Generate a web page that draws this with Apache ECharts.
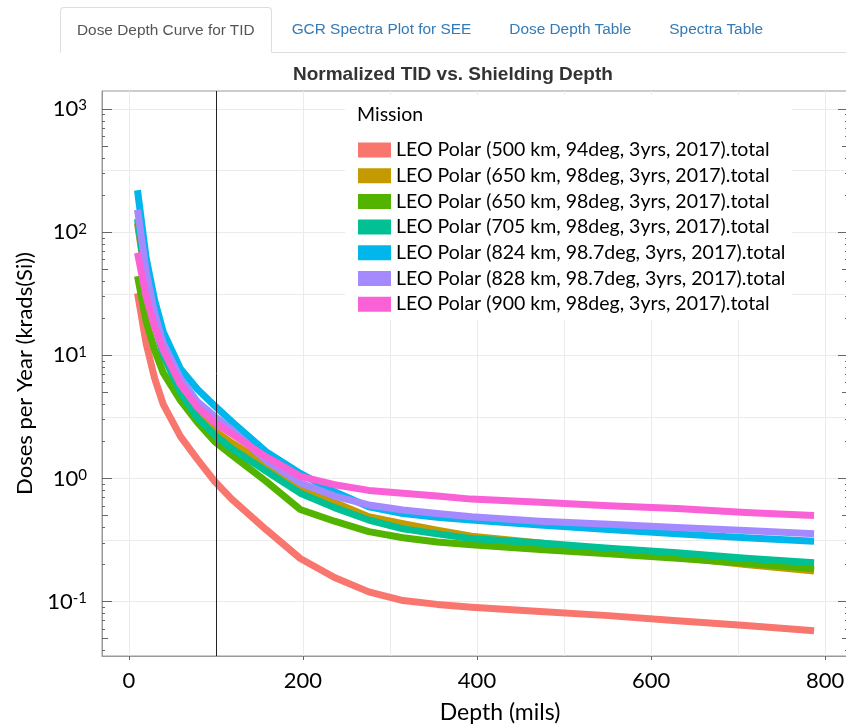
<!DOCTYPE html>
<html>
<head>
<meta charset="utf-8">
<script src="https://cdn.jsdelivr.net/npm/echarts@6/dist/echarts.min.js"></script>
<style>
    html, body { margin: 0; padding: 0; background: #fff; }
    #main { position: absolute; left: 0; top: 0; width: 846px; height: 728px; }
    .tabs {
        position: absolute; left: 60px; top: 7px; right: 0; height: 45px;
        border-bottom: 1px solid #ddd; display: flex; z-index: 2;
        font-family: "Liberation Sans", Arial, sans-serif; font-size: 15.4px;
    }
    .tab { padding: 0 18px; line-height: 44px; color: #337ab7; margin-right: 2px; white-space: nowrap; }
    .tab.active {
        color: #555; background: #fff; padding: 0 16px;
        border: 1px solid #ddd; border-bottom-color: #fff;
        border-radius: 4px 4px 0 0; margin-bottom: -1px;
    }
</style>
</head>
<body>
<div id="main"></div>
<div class="tabs">
    <div class="tab active">Dose Depth Curve for TID</div>
    <div class="tab">GCR Spectra Plot for SEE</div>
    <div class="tab">Dose Depth Table</div>
    <div class="tab">Spectra Table</div>
</div>
<script>
    // depths in mils (0.25 ... 20 mm)
    const depthMils = [9.8, 19.7, 29.5, 39.4, 59.1, 78.7, 98.4, 118.1, 157.5, 196.9,
        236.2, 275.6, 315.0, 354.3, 393.7, 472.4, 551.2, 629.9, 708.7, 787.4]

    const missionNames = [
        'LEO Polar (500 km, 94deg, 3yrs, 2017).total',
        'LEO Polar (650 km, 98deg, 3yrs, 2017).total',
        'LEO Polar (650 km, 98deg, 3yrs, 2017).total ',
        'LEO Polar (705 km, 98deg, 3yrs, 2017).total',
        'LEO Polar (824 km, 98.7deg, 3yrs, 2017).total',
        'LEO Polar (828 km, 98.7deg, 3yrs, 2017).total',
        'LEO Polar (900 km, 98deg, 3yrs, 2017).total'
    ]
    const missionColors = ['#F8766D', '#C49A00', '#53B400', '#00C094', '#00B6EB', '#A58AFF', '#FB61D7']

    // doses per year (krads(Si))
    const dose500 = [32, 12.5, 6.5, 4.0, 2.2, 1.43, 0.95, 0.68, 0.385, 0.224, 0.157, 0.12, 0.102, 0.095, 0.09, 0.083, 0.077, 0.07, 0.064, 0.058]
    const dose650a = [118, 39, 18.5, 10.5, 5.3, 3.4, 2.45, 1.95, 1.32, 0.84, 0.64, 0.49, 0.43, 0.38, 0.34, 0.3, 0.255, 0.23, 0.2, 0.177]
    const dose650b = [44, 19, 11, 7.2, 4.3, 2.85, 2.0, 1.55, 0.95, 0.56, 0.45, 0.37, 0.33, 0.305, 0.29, 0.265, 0.245, 0.225, 0.205, 0.185]
    const dose705 = [128, 40, 18, 10, 5.0, 3.1, 2.25, 1.75, 1.15, 0.76, 0.58, 0.46, 0.39, 0.355, 0.325, 0.3, 0.272, 0.25, 0.225, 0.207]
    const dose824 = [219, 62, 28, 15.5, 7.8, 5.3, 3.9, 2.9, 1.65, 1.1, 0.78, 0.59, 0.52, 0.485, 0.46, 0.42, 0.385, 0.355, 0.33, 0.31]
    const dose828 = [152, 48, 22, 12.5, 6.5, 4.2, 3.2, 2.5, 1.4, 0.92, 0.72, 0.61, 0.555, 0.52, 0.49, 0.45, 0.425, 0.4, 0.378, 0.356]
    const dose900 = [68, 30, 17, 11, 5.8, 3.8, 2.85, 2.3, 1.5, 1.04, 0.89, 0.8, 0.76, 0.72, 0.68, 0.64, 0.6, 0.57, 0.53, 0.5]
    const allDoses = [dose500, dose650a, dose650b, dose705, dose824, dose828, dose900]

    // axis ticks
    const xTickLabels = [0, 200, 400, 600, 800]
    const xGridValues = [0, 100, 200, 300, 400, 500, 600, 700, 800]
    const yDecades = [0.1, 1, 10, 100, 1000]
    const yFives = [0.05, 0.5, 5, 50, 500]
    const yMinors = [0.04, 0.06, 0.07, 0.08, 0.09, 0.2, 0.3, 0.4, 0.6, 0.7, 0.8, 0.9,
        2, 3, 4, 6, 7, 8, 9, 20, 30, 40, 60, 70, 80, 90, 200, 300, 400, 600, 700, 800, 900]
    const yHalfDecades = [0.0316, 0.316, 3.16, 31.6, 316]
    const refDepth = 100

    const yMin = 0.0362
    const yMax = 1400
    const font = 'Lato'

    let myChart = echarts.init(document.getElementById('main'))

    // y axis that only draws a set of ticks
    function tickAxis(position, values, len) {
        return {
            type: 'log', position: position, min: yMin, max: yMax,
            axisLine: { show: false, onZero: false },
            axisTick: { show: true, inside: true, length: len, customValues: values, lineStyle: { color: '#666' } },
            axisLabel: { show: false },
            splitLine: { show: false }
        }
    }

    const series = missionNames.map((name, i) => ({
        name: name,
        type: 'line',
        data: depthMils.map((d, j) => [d, allDoses[i][j]]),
        showSymbol: false,
        symbol: 'none',
        lineStyle: { width: 7, color: missionColors[i], cap: 'butt', join: 'round' },
        itemStyle: { color: missionColors[i] },
        emphasis: { disabled: true },
        z: 2 + i * 0.01
    }))

    // vertical reference line at 100 mils
    series[series.length - 1].markLine = {
        silent: true,
        symbol: 'none',
        label: { show: false },
        lineStyle: { color: '#222', width: 1, type: 'solid' },
        data: [{ xAxis: refDepth }],
        z: 10
    }

    const option = {
        animation: false,
        color: missionColors,
        title: {
            text: 'Normalized TID vs. Shielding Depth',
            left: 293, top: 65, padding: 0,
            textStyle: { fontFamily: 'Liberation Sans', fontSize: 19, fontWeight: 'bold', color: '#333' }
        },
        grid: {
            left: 102, right: -2, top: 91, bottom: 72,
            show: true, borderColor: '#999', borderWidth: 1, backgroundColor: 'transparent',
            containLabel: false, outerBoundsMode: 'none'
        },
        xAxis: [
            {
                type: 'value', min: -31, max: 826.4,
                name: 'Depth (mils)', nameLocation: 'middle', nameGap: 45,
                nameTextStyle: { fontFamily: font, fontSize: 23, color: '#000', padding: [0, 0, 0, 50] },
                axisLine: { show: true, onZero: false, lineStyle: { color: '#999' } },
                axisTick: { show: true, inside: false, length: 4, customValues: xTickLabels, lineStyle: { color: '#666' } },
                axisLabel: { customValues: xTickLabels, margin: 14, fontFamily: font, fontSize: 22, color: '#000' },
                splitLine: { show: false }
            },
            {
                type: 'value', min: -31, max: 826.4, position: 'bottom',
                axisLine: { show: false, onZero: false },
                axisTick: { show: false, customValues: xGridValues },
                axisLabel: { show: false },
                splitLine: { show: true, lineStyle: { color: '#ebebeb', width: 1 } }
            }
        ],
        yAxis: [
            {
                type: 'log', position: 'left', min: yMin, max: yMax,
                name: 'Doses per Year (krads(Si))', nameLocation: 'middle', nameGap: 65,
                nameTextStyle: { fontFamily: font, fontSize: 22, color: '#000' },
                axisLine: { show: true, onZero: false, lineStyle: { color: '#999' } },
                axisTick: { show: true, inside: true, length: 10, customValues: yDecades, lineStyle: { color: '#666' } },
                axisLabel: {
                    customValues: yDecades, margin: 15,
                    formatter: function (val) {
                        return '{b|10}{e|' + Math.round(Math.log10(val)) + '}'
                    },
                    rich: {
                        b: { fontFamily: font, fontSize: 22, lineHeight: 22, color: '#000' },
                        e: { fontFamily: font, fontSize: 15, lineHeight: 13, color: '#000', verticalAlign: 'top' }
                    }
                },
                splitLine: { show: true, lineStyle: { color: '#ebebeb', width: 1 } }
            },
            tickAxis('left', yFives, 6),
            tickAxis('left', yMinors, 3),
            tickAxis('right', yDecades, 10),
            tickAxis('right', yFives, 6),
            tickAxis('right', yMinors, 3),
            {
                type: 'log', position: 'left', min: yMin, max: yMax,
                axisLine: { show: false, onZero: false },
                axisTick: { show: false, customValues: yHalfDecades },
                axisLabel: { show: false },
                splitLine: { show: true, lineStyle: { color: '#ebebeb', width: 1 } }
            }
        ],
        legend: {
            orient: 'vertical', left: 358, top: 140, padding: 0,
            itemWidth: 33, itemHeight: 15, itemGap: 5.7,
            icon: 'rect', selectedMode: false,
            textStyle: { fontFamily: font, fontSize: 19.5, lineHeight: 20, color: '#000' },
            data: missionNames,
            z: 6
        },
        graphic: [
            {
                type: 'rect', z: 1,
                shape: { x: 345, y: 95, width: 447, height: 225 },
                style: { fill: '#fff' }
            },
            {
                type: 'text', z: 6, x: 357, y: 115,
                style: { text: 'Mission', fontFamily: font, fontSize: 19.5, fill: '#000', verticalAlign: 'middle' }
            }
        ],
        series: series
    }

    option && myChart.setOption(option)
</script>
</body>
</html>
